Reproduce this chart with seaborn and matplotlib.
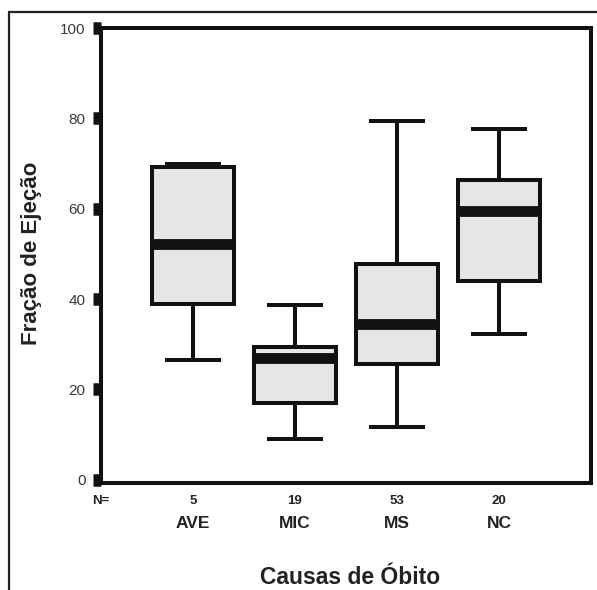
import matplotlib
matplotlib.use("Agg")
import matplotlib.pyplot as plt
from matplotlib.lines import Line2D
import seaborn as sns
import pandas as pd

# ---- data (five-number summaries) ----
causas = ["AVE", "MIC", "MS", "NC"]
n_casos = [5, 19, 53, 20]
minimo = [26.5, 9.0, 11.6, 32.2]
q1 = [38.9, 17.1, 25.6, 43.9]
mediana = [52.1, 26.9, 34.5, 59.4]
q3 = [69.3, 29.3, 47.8, 66.4]
maximo = [69.9, 38.8, 79.5, 77.6]
yticks = [0, 20, 40, 60, 80, 100]

rows = []
for i, c in enumerate(causas):
    for v in (minimo[i], q1[i], mediana[i], q3[i], maximo[i]):
        rows.append({"Causa": c, "FE": v})
df = pd.DataFrame(rows)

sns.set_style("white")
plt.rcParams["font.family"] = ["Liberation Sans", "DejaVu Sans"]

W, H = 597, 590
fig = plt.figure(figsize=(W / 100, H / 100), dpi=100)
ax_l, ax_r, ax_t, ax_b = 101, 591, 28, 483
ax = fig.add_axes([ax_l / W, 1 - ax_b / H, (ax_r - ax_l) / W, (ax_b - ax_t) / H])

lw = 2.9
sns.boxplot(
    data=df, x="Causa", y="FE", order=causas, whis=(0, 100), width=0.8,
    color="#e6e6e6", saturation=1, linecolor="#111111", linewidth=lw,
    showfliers=False, capwidths=0.55,
    medianprops=dict(linewidth=7.8, solid_capstyle="butt", color="#111111"),
    whiskerprops=dict(linewidth=lw, color="#111111"),
    capprops=dict(linewidth=lw, color="#111111", solid_capstyle="butt"),
    boxprops=dict(linewidth=lw, edgecolor="#111111"),
    ax=ax,
)

ax.set_xlim(-0.9, 3.9)
ax.set_ylim(-0.7, 100)
ax.set_yticks(yticks)
ax.set_yticklabels([str(t) for t in yticks], fontsize=11, color="#3a3a3a")
ax.tick_params(axis="y", direction="out", length=5.5, width=9, color="#111111", pad=5.5, left=True)
ax.tick_params(axis="x", length=0, pad=29)
ax.set_xticks(range(len(causas)))
ax.set_xticklabels(causas, fontsize=12.5, fontweight="bold", color="#222222")
for lab in ax.get_xticklabels():
    lab.set_va("center")

for s in ax.spines.values():
    s.set_visible(True)
    s.set_linewidth(lw)
    s.set_color("#111111")

ax.set_ylabel("Fração de Ejeção", fontsize=16, fontweight="bold", color="#222222")
ax.yaxis.set_label_coords((32 - ax_l) / (ax_r - ax_l), (ax_b - 253) / (ax_b - ax_t))
ax.yaxis.label.set_va("center")
ax.set_xlabel("Causas de Óbito", fontsize=16.5, fontweight="bold", color="#222222")
ax.xaxis.set_label_coords((350 - ax_l) / (ax_r - ax_l), (ax_b - 577) / (ax_b - ax_t))
ax.xaxis.label.set_va("center")

# N= row
ny = (ax_b - 501) / (ax_b - ax_t)
ax.text(-0.9, ny, "N=", transform=ax.get_xaxis_transform(), ha="center", va="center",
        fontsize=9.5, fontweight="bold", color="#222222", clip_on=False)
for i, n in enumerate(n_casos):
    ax.text(i, ny, str(n), transform=ax.get_xaxis_transform(), ha="center", va="center",
            fontsize=9.5, fontweight="bold", color="#222222", clip_on=False)

# outer frame lines (top and left)
fx, fy = 9 / W, 1 - 11.5 / H
fig.add_artist(Line2D([fx, 1], [fy, fy], transform=fig.transFigure, color="#222222", lw=1.6))
fig.add_artist(Line2D([fx, fx], [fy, 0], transform=fig.transFigure, color="#222222", lw=1.6))

fig.savefig("out.png", dpi=100)
